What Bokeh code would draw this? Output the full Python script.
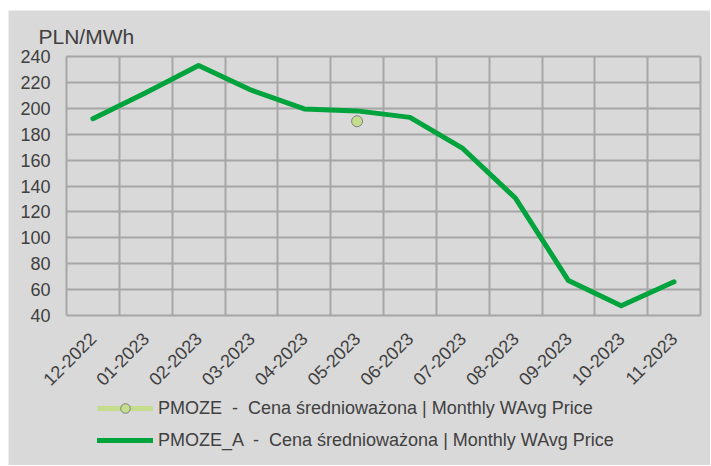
import math
from bokeh.plotting import figure
from bokeh.models import (Range1d, FixedTicker, Legend, LegendItem, ColumnDataSource)
from bokeh.core.properties import value
from bokeh.embed import file_html
from bokeh.resources import INLINE

months = ["12-2022", "01-2023", "02-2023", "03-2023", "04-2023", "05-2023",
          "06-2023", "07-2023", "08-2023", "09-2023", "10-2023", "11-2023"]
pmoze_a = [192, 212, 233, 214, 199.5, 198, 193, 169, 130.5, 67, 47.5, 66]
pmoze = [math.nan, math.nan, math.nan, math.nan, math.nan, 190,
         math.nan, math.nan, math.nan, math.nan, math.nan, math.nan]
y_ticks = [40, 60, 80, 100, 120, 140, 160, 180, 200, 220, 240]
y_title = "PLN/MWh"
label_pmoze = "PMOZE  -  Cena średnioważona | Monthly WAvg Price"
label_pmoze_a = "PMOZE_A  -  Cena średnioważona | Monthly WAvg Price"

FONT = "Liberation Sans"
TXT = "#404040"
GRID = "#A6A6A6"
BG = "#D9D9D9"
GREEN = "#00A33C"
LIGHT = "#C4DD8C"

# layout geometry (pixels)
W, H = 702, 455
LEFT = 58
PLOT_TOP, PLOT_H, PLOT_W = 46, 259, 634

n = len(months)
ymin, ymax = y_ticks[0], y_ticks[-1]
upp = (ymax - ymin) / PLOT_H
y_top = ymax + PLOT_TOP * upp
y_bot = ymin - (H - PLOT_TOP - PLOT_H) * upp
xpp = n / PLOT_W
x_start = -LEFT * xpp
x_end = n + (W - LEFT - PLOT_W) * xpp

xs = [i + 0.5 for i in range(n)]
src = ColumnDataSource(dict(x=xs, a=pmoze_a, p=pmoze))
lab_src = ColumnDataSource(dict(x=xs, y=[ymin] * n, t=months))
ylab_src = ColumnDataSource(dict(x=[0] * len(y_ticks), y=y_ticks, t=[str(v) for v in y_ticks]))
ttl_src = ColumnDataSource(dict(x=[0], y=[ymax], t=[y_title]))

p = figure(width=W, height=H, output_backend="svg", toolbar_location=None,
           x_range=Range1d(x_start, x_end), y_range=Range1d(y_bot, y_top),
           x_axis_location=None, y_axis_location=None,
           min_border_left=0, min_border_right=0, min_border_top=0, min_border_bottom=0,
           background_fill_color=BG, border_fill_color=BG, margin=(10, 0, 0, 8))
p.outline_line_color = None

p.xgrid.ticker = FixedTicker(ticks=list(range(n + 1)))
p.xgrid.bounds = (0, n)
p.xgrid.cross_bounds = (ymin, ymax)
p.xgrid.grid_line_color = GRID
p.xgrid.grid_line_width = 2
p.ygrid.ticker = FixedTicker(ticks=y_ticks)
p.ygrid.bounds = (ymin, ymax)
p.ygrid.cross_bounds = (0, n)
p.ygrid.grid_line_color = GRID
p.ygrid.grid_line_width = 2

# y tick labels
p.text("x", "y", text="t", source=ylab_src, text_align="right", text_baseline="middle",
       x_offset=-16, text_font=value(FONT), text_font_size="18px", text_color=TXT)
# category labels under the plot, rotated 45 degrees
p.text("x", "y", text="t", source=lab_src, angle=math.pi / 4,
       text_align="right", text_baseline="middle", x_offset=0, y_offset=20,
       text_font=value(FONT), text_font_size="18px", text_color=TXT)
# unit title
p.text("x", "y", text="t", source=ttl_src, text_align="left", text_baseline="alphabetic",
       x_offset=-28, y_offset=-20, text_font=value(FONT), text_font_size="21px", text_color=TXT)

l2 = p.line("x", "a", source=src, line_color=GREEN, line_width=5, line_join="round", line_cap="round")
l1 = p.line("x", "p", source=src, line_color=LIGHT, line_width=5)
s1 = p.scatter("x", "p", source=src, size=11, fill_color=LIGHT, line_color="#7F7F7F", line_width=1)

legend = Legend(items=[LegendItem(label=label_pmoze, renderers=[l1, s1]),
                       LegendItem(label=label_pmoze_a, renderers=[l2])],
                location=(LEFT + 31, 13), orientation="vertical",
                background_fill_alpha=0, border_line_color=None,
                glyph_width=56, glyph_height=24, label_height=24, label_standoff=5, spacing=8,
                label_text_font=FONT, label_text_font_size="18px", label_text_color=TXT,
                padding=0, margin=0)
p.add_layout(legend, "center")

open("out.html", "w").write(file_html(p, INLINE))
